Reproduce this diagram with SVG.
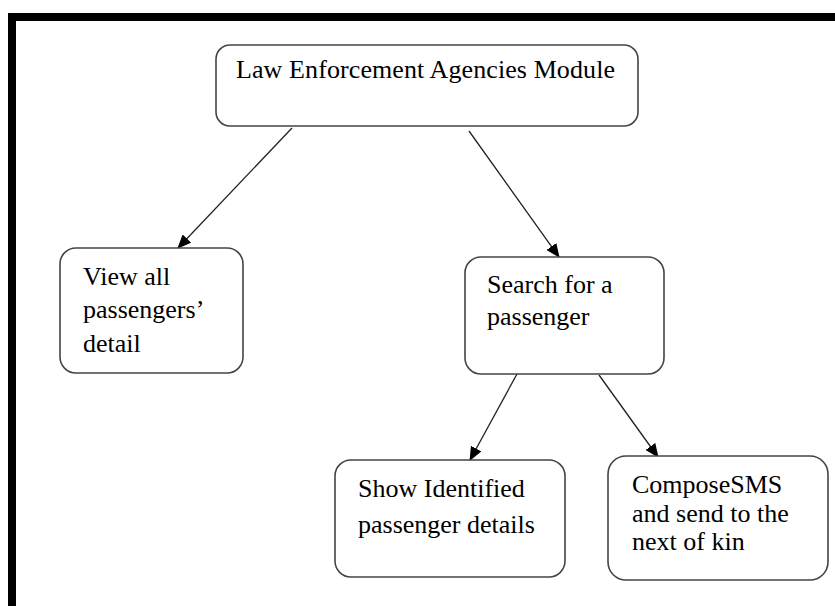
<svg xmlns="http://www.w3.org/2000/svg" width="835" height="606" viewBox="0 0 835 606">
<style>
.box{fill:#fff;stroke:#444;stroke-width:1.6}
.t{font-family:"Liberation Serif","Times New Roman",serif;font-size:26px;fill:#000}
.c{stroke:#222;stroke-width:1.3;fill:none;marker-end:url(#ah)}
</style>
<defs>
<marker id="ah" markerUnits="userSpaceOnUse" markerWidth="14" markerHeight="12" refX="13" refY="6" orient="auto">
<path d="M0,0 L14,6 L0,12 Z" fill="#000"/>
</marker>
</defs>
<rect x="0" y="0" width="835" height="606" fill="#fff"/>
<g id="frame">
<rect x="8" y="13" width="827" height="8" fill="#000"/>
<rect x="8" y="13" width="8" height="593" fill="#000"/>
</g>
<g id="connectors">
<line class="c" x1="292" y1="128" x2="178" y2="248"/>
<line class="c" x1="469" y1="131" x2="559" y2="257"/>
<line class="c" x1="517" y1="374" x2="470" y2="460"/>
<line class="c" x1="599" y1="375" x2="658" y2="457"/>
</g>
<g id="law">
<rect class="box" x="216" y="45" width="422" height="81" rx="14"/>
<text class="t" x="236" y="78" font-size="25" textLength="379" lengthAdjust="spacing">Law Enforcement Agencies  Module</text>
</g>
<g id="view">
<rect class="box" x="60" y="248" width="183" height="125" rx="16"/>
<text class="t" x="83" y="285">View all</text>
<text class="t" x="83" y="318">passengers’</text>
<text class="t" x="83" y="352">detail</text>
</g>
<g id="search">
<rect class="box" x="465" y="257" width="199" height="117" rx="16"/>
<text class="t" x="487" y="293">Search for a</text>
<text class="t" x="487" y="325">passenger</text>
</g>
<g id="show">
<rect class="box" x="335" y="460" width="230" height="117" rx="16"/>
<text class="t" x="358" y="497">Show Identified</text>
<text class="t" x="358" y="533">passenger details</text>
</g>
<g id="compose">
<rect class="box" x="608" y="456" width="220" height="124" rx="18"/>
<text class="t" x="632" y="493">ComposeSMS</text>
<text class="t" x="632" y="522">and send to the</text>
<text class="t" x="632" y="550">next of kin</text>
</g>
</svg>
